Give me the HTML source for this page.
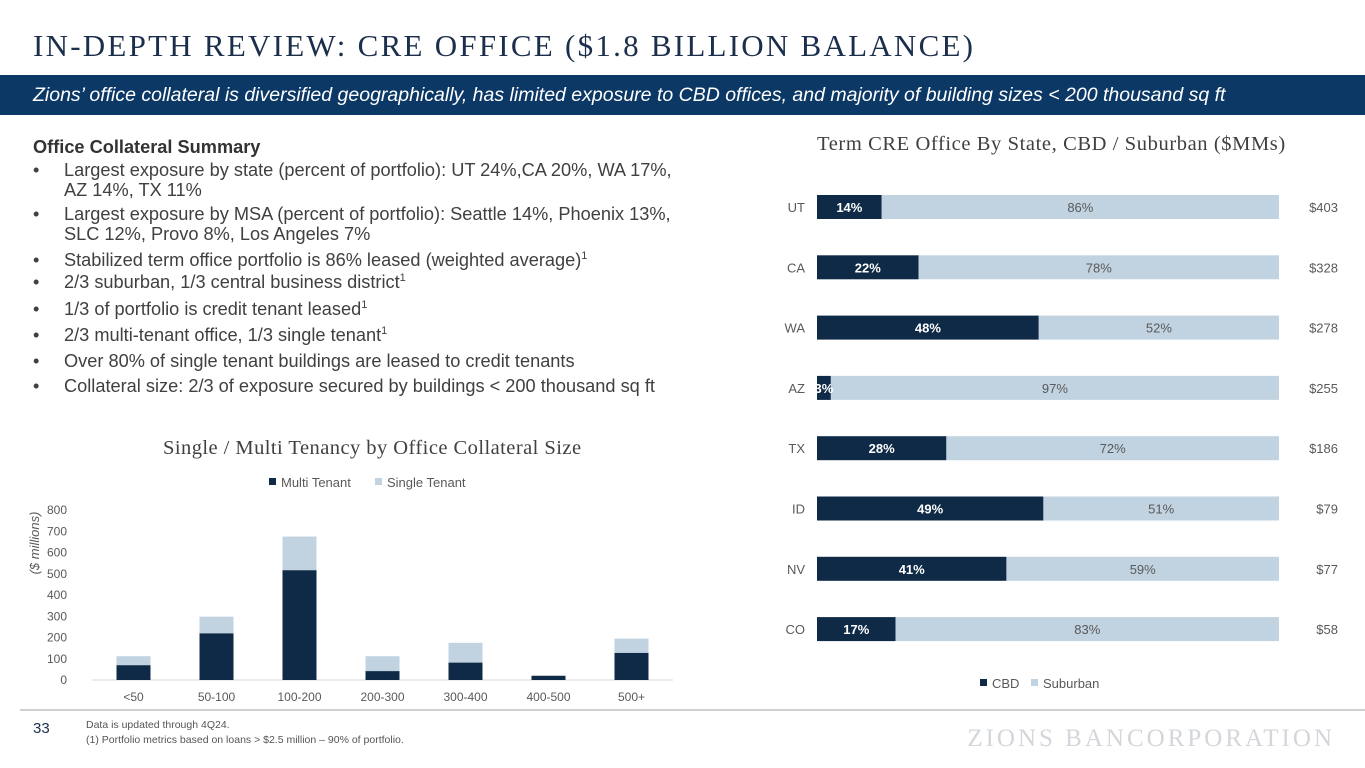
<!DOCTYPE html>
<html><head><meta charset="utf-8"><style>
body{margin:0;width:1365px;height:768px;background:#fff;position:relative;overflow:hidden;font-family:"Liberation Sans",sans-serif}
.abs{position:absolute}
#title{left:33px;top:28px;font-family:"Liberation Serif",serif;font-size:31px;color:#1b2f4d;letter-spacing:2.25px;white-space:nowrap}
#banner{left:0;top:75px;width:1365px;height:40px;background:#0c3866}
#banner span{position:absolute;left:33px;top:9px;color:#fff;font-style:italic;font-size:19.5px;white-space:nowrap}
.sl{position:absolute;left:33px;font-size:18.2px;color:#404040;line-height:20px;white-space:nowrap}
.sl.b{padding-left:31px}
.sl.b:before{content:"•";position:absolute;left:0}
sup{font-size:11px;line-height:0}
.ctitle{font-family:"Liberation Serif",serif;color:#404040;white-space:nowrap}
</style></head><body>
<div id="title" class="abs">IN-DEPTH REVIEW: CRE OFFICE ($1.8 BILLION BALANCE)</div>
<div id="banner" class="abs"><span>Zions’ office collateral is diversified geographically, has limited exposure to CBD offices, and majority of building sizes &lt; 200 thousand sq ft</span></div>
<div>
<div class="sl" style="top:137px;font-weight:bold;color:#333">Office Collateral Summary</div>
<div class="sl b" style="top:160px">Largest exposure by state (percent of portfolio): UT 24%,CA 20%, WA 17%,<br>AZ 14%, TX 11%</div>
<div class="sl b" style="top:204px">Largest exposure by MSA (percent of portfolio): Seattle 14%, Phoenix 13%,<br>SLC 12%, Provo 8%, Los Angeles 7%</div>
<div class="sl b" style="top:250px">Stabilized term office portfolio is 86% leased (weighted average)<sup>1</sup></div>
<div class="sl b" style="top:272px">2/3 suburban, 1/3 central business district<sup>1</sup></div>
<div class="sl b" style="top:299px">1/3 of portfolio is credit tenant leased<sup>1</sup></div>
<div class="sl b" style="top:325px">2/3 multi-tenant office, 1/3 single tenant<sup>1</sup></div>
<div class="sl b" style="top:351px">Over 80% of single tenant buildings are leased to credit tenants</div>
<div class="sl b" style="top:376px">Collateral size: 2/3 of exposure secured by buildings &lt; 200 thousand sq ft</div>
</div>
<div class="abs ctitle" style="left:163px;top:437px;font-size:20.5px;letter-spacing:0.45px">Single / Multi Tenancy by Office Collateral Size</div>
<div class="abs ctitle" style="left:817px;top:133px;font-size:20.5px;letter-spacing:0.6px">Term CRE Office By State, CBD / Suburban ($MMs)</div>
<svg class="abs" style="left:0;top:0" width="1365" height="768" id="svg">
<line x1="20" y1="710" x2="1365" y2="710" stroke="#d0d0d0" stroke-width="2"/>
<text x="33" y="733" font-size="15" fill="#1b2f4d">33</text>
<text x="86" y="728" font-size="10.5" fill="#555">Data is updated through 4Q24.</text>
<text x="86" y="743" font-size="10.5" fill="#555">(1) Portfolio metrics based on loans &gt; $2.5 million – 90% of portfolio.</text>
<text x="1335" y="746" text-anchor="end" font-family="Liberation Serif" font-size="25" fill="#d3d6da" letter-spacing="3">ZIONS BANCORPORATION</text>
<g id="left"></g><g id="right"></g>
</svg>
<script>
const sizeCats=["<50","50-100","100-200","200-300","300-400","400-500","500+"];
const multiTenant=[70,220,517,42,82,20,128];
const singleTenant=[42,78,158,70,93,0,67];
const yTicks=[0,100,200,300,400,500,600,700,800];
const states=["UT","CA","WA","AZ","TX","ID","NV","CO"];
const cbdPct=[14,22,48,3,28,49,41,17];
const balances=[403,328,278,255,186,79,77,58];
const NS="http://www.w3.org/2000/svg";
function mk(p,t,a,txt){const e=document.createElementNS(NS,t);for(const k in a)e.setAttribute(k,a[k]);if(txt!=null)e.textContent=txt;p.appendChild(e);return e;}
const DARK="#0f2a47",LIGHT="#c1d3e0";
const L=document.getElementById('left');
const y0=680,yMax=800,ph=170,x0=92,step=83;
const ys=v=>y0-v/yMax*ph, xs=i=>x0+step*(i+0.5);
yTicks.forEach(t=>{const e=mk(L,'text',{x:67,y:ys(t)+4,'text-anchor':'end','font-size':12,fill:'#595959'},t);
});
const ax=mk(L,'line',{x1:x0,x2:x0+step*7,y1:y0,y2:y0,stroke:'#d9d9d9'});

const yt=mk(L,'text',{transform:'translate(39,543) rotate(-90)','text-anchor':'middle','font-size':13,'font-style':'italic',fill:'#595959'},'($ millions)');

sizeCats.forEach((c,i)=>{
 const cx=xs(i),w=34;
 const m=mk(L,'rect',{x:cx-w/2,y:ys(multiTenant[i]),width:w,height:y0-ys(multiTenant[i]),fill:DARK});
 
 const top=multiTenant[i]+singleTenant[i];
 const s=mk(L,'rect',{x:cx-w/2,y:ys(top),width:w,height:ys(multiTenant[i])-ys(top),fill:LIGHT});
 
 const t=mk(L,'text',{x:cx,y:701,'text-anchor':'middle','font-size':12,fill:'#595959'},c);
 
});
let g=mk(L,'g',{});
mk(g,'rect',{x:269,y:478,width:7,height:7,fill:DARK});mk(g,'text',{x:281,y:487,'font-size':13,fill:'#595959'},'Multi Tenant');
g=mk(L,'g',{});
mk(g,'rect',{x:375,y:478,width:7,height:7,fill:LIGHT});mk(g,'text',{x:387,y:487,'font-size':13,fill:'#595959'},'Single Tenant');
const R=document.getElementById('right');
const bx=817,bw=462,bh=24,r0=207,rs=60.3;
const xp=p=>bx+p/100*bw;
states.forEach((s,i)=>{
 const cy=r0+rs*i;
 const d=mk(R,'rect',{x:bx,y:cy-bh/2,width:xp(cbdPct[i])-bx,height:bh,fill:DARK});
 
 const l=mk(R,'rect',{x:xp(cbdPct[i]),y:cy-bh/2,width:bx+bw-xp(cbdPct[i]),height:bh,fill:LIGHT});
 
 const sl=mk(R,'text',{x:805,y:cy+5,'text-anchor':'end','font-size':13,fill:'#595959'},s);
 
 const cl=mk(R,'text',{x:(bx+xp(cbdPct[i]))/2,y:cy+5,'text-anchor':'middle','font-size':13,'font-weight':'bold',fill:'#fff'},cbdPct[i]+'%');
 
 const ul=mk(R,'text',{x:(xp(cbdPct[i])+bx+bw)/2,y:cy+5,'text-anchor':'middle','font-size':13,fill:'#595959'},(100-cbdPct[i])+'%');
 
 const bl=mk(R,'text',{x:1338,y:cy+5,'text-anchor':'end','font-size':13,fill:'#595959'},'$'+balances[i]);
 
});
g=mk(R,'g',{});
mk(g,'rect',{x:980,y:679,width:7,height:7,fill:DARK});mk(g,'text',{x:992,y:688,'font-size':13,fill:'#595959'},'CBD');
g=mk(R,'g',{});
mk(g,'rect',{x:1031,y:679,width:7,height:7,fill:LIGHT});mk(g,'text',{x:1043,y:688,'font-size':13,fill:'#595959'},'Suburban');
</script>
</body></html>
